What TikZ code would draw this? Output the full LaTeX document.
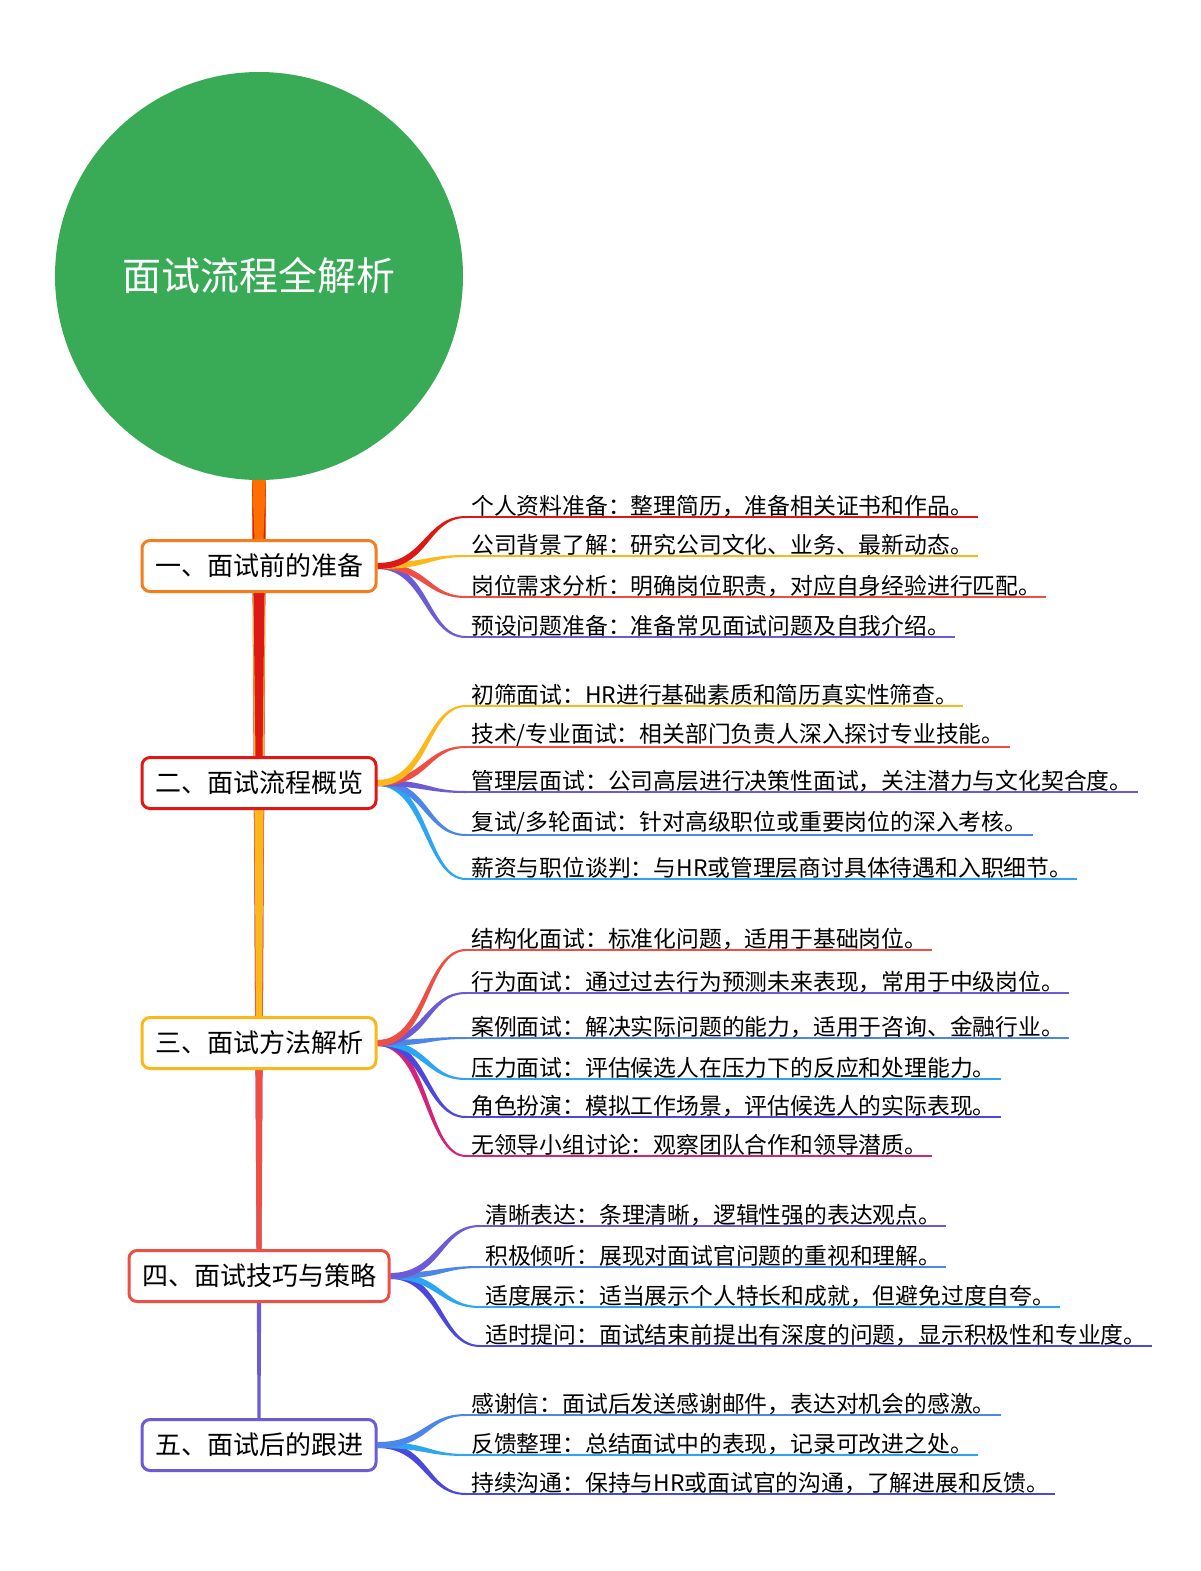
\documentclass[tikz,border=0pt]{standalone}
\usepackage{fontspec}
\setmainfont{Noto Sans CJK SC}
\usepackage{tikz}
\usetikzlibrary{calc}
\usetikzlibrary{backgrounds}
\definecolor{mmGreen}{RGB}{57,170,86}
\definecolor{mmOrange}{RGB}{245,125,30}
\definecolor{mmTrunk}{RGB}{255,110,0}
\definecolor{mmRed}{RGB}{222,24,20}
\definecolor{mmAmber}{RGB}{250,184,26}
\definecolor{mmCoral}{RGB}{239,78,66}
\definecolor{mmPurple}{RGB}{108,90,214}
\definecolor{mmBlue}{RGB}{76,134,232}
\definecolor{mmSky}{RGB}{44,166,242}
\definecolor{mmIndigo}{RGB}{76,72,220}
\definecolor{mmMagenta}{RGB}{212,36,122}
\tikzset{
topic/.style = {draw=#1, line width=3pt, rounded corners=8pt, fill=white,
               minimum height=51pt, inner xsep=13pt,
               font=\fontsize{26}{30}\selectfont},
leaf/.style = {anchor=south west, inner xsep=5pt, inner ysep=0.3pt,
              font=\fontsize{22.8}{26}\selectfont}
}
\newcommand{\trunk}[3]{\fill[#1] ($(root.south)+(-7,-4)$) -- ($(#2.north)+(-#3,0)$) -- ($(#2.north)+(#3,0)$) -- ($(root.south)+(7,-4)$) -- cycle;}
\newcommand{\twig}[4]{% colour, 1 = leaf above / -1 = leaf below, topic, leaf
  \fill[#1] ($(#3.east)+(0,-3)$)
    .. controls ($(#3.east)+({50-3*(#2)},-3)$) and ($(#4.south west)+({-40-(#2)},-1)$) .. ($(#4.south west)+(0,-1)$)
    -- ($(#4.south west)+(0,1)$)
    .. controls ($(#4.south west)+({-40+(#2)},1)$) and ($(#3.east)+({50+3*(#2)},3)$) .. ($(#3.east)+(0,3)$) -- cycle;
  \draw[#1, line width=2pt] (#4.south west) -- (#4.south east);}

\begin{document}
\begin{tikzpicture}[x=1pt, y=-1pt]
    \useasboundingbox (0,0) rectangle (1200,1571);
    \node[circle, fill=mmGreen, minimum size=408pt, text=white,
          font=\fontsize{39}{44}\selectfont] (root) at (259,276) {面试流程全解析};

    \node[topic=mmOrange] (p1) at (259,566) {一、面试前的准备};
    \node[topic=mmRed] (p2) at (259,783) {二、面试流程概览};
    \node[topic=mmAmber] (p3) at (259,1043) {三、面试方法解析};
    \node[topic=mmCoral] (p4) at (259,1276) {四、面试技巧与策略};
    \node[topic=mmPurple] (p5) at (259,1445) {五、面试后的跟进};

    \node[leaf] (p1a) at (466,517) {个人资料准备：整理简历，准备相关证书和作品。};
    \node[leaf] (p1b) at (466,556) {公司背景了解：研究公司文化、业务、最新动态。};
    \node[leaf] (p1c) at (466,597) {岗位需求分析：明确岗位职责，对应自身经验进行匹配。};
    \node[leaf] (p1d) at (466,637) {预设问题准备：准备常见面试问题及自我介绍。};

    \node[leaf] (p2a) at (466,706) {初筛面试：HR进行基础素质和简历真实性筛查。};
    \node[leaf] (p2b) at (466,747) {技术/专业面试：相关部门负责人深入探讨专业技能。};
    \node[leaf] (p2c) at (466,792) {管理层面试：公司高层进行决策性面试，关注潜力与文化契合度。};
    \node[leaf] (p2d) at (466,835) {复试/多轮面试：针对高级职位或重要岗位的深入考核。};
    \node[leaf] (p2e) at (466,879) {薪资与职位谈判：与HR或管理层商讨具体待遇和入职细节。};

    \node[leaf] (p3a) at (466,950) {结构化面试：标准化问题，适用于基础岗位。};
    \node[leaf] (p3b) at (466,993) {行为面试：通过过去行为预测未来表现，常用于中级岗位。};
    \node[leaf] (p3c) at (466,1038) {案例面试：解决实际问题的能力，适用于咨询、金融行业。};
    \node[leaf] (p3d) at (466,1079) {压力面试：评估候选人在压力下的反应和处理能力。};
    \node[leaf] (p3e) at (466,1117) {角色扮演：模拟工作场景，评估候选人的实际表现。};
    \node[leaf] (p3f) at (466,1156) {无领导小组讨论：观察团队合作和领导潜质。};

    \node[leaf] (p4a) at (480,1226) {清晰表达：条理清晰，逻辑性强的表达观点。};
    \node[leaf] (p4b) at (480,1267) {积极倾听：展现对面试官问题的重视和理解。};
    \node[leaf] (p4c) at (480,1307) {适度展示：适当展示个人特长和成就，但避免过度自夸。};
    \node[leaf] (p4d) at (480,1346) {适时提问：面试结束前提出有深度的问题，显示积极性和专业度。};

    \node[leaf] (p5a) at (466,1415) {感谢信：面试后发送感谢邮件，表达对机会的感激。};
    \node[leaf] (p5b) at (466,1455) {反馈整理：总结面试中的表现，记录可改进之处。};
    \node[leaf] (p5c) at (466,1494) {持续沟通：保持与HR或面试官的沟通，了解进展和反馈。};

    \begin{pgfonlayer}{background}
    \trunk{mmPurple}{p5}{1.5}
    \trunk{mmCoral}{p4}{2.5}
    \trunk{mmAmber}{p3}{3}
    \trunk{mmRed}{p2}{3.5}
    \trunk{mmTrunk}{p1}{4.5}

    \twig{mmPurple}{-1}{p1}{p1d}
    \twig{mmCoral}{-1}{p1}{p1c}
    \twig{mmAmber}{1}{p1}{p1b}
    \twig{mmRed}{1}{p1}{p1a}

    \twig{mmSky}{-1}{p2}{p2e}
    \twig{mmBlue}{-1}{p2}{p2d}
    \twig{mmPurple}{-1}{p2}{p2c}
    \twig{mmCoral}{1}{p2}{p2b}
    \twig{mmAmber}{1}{p2}{p2a}

    \twig{mmMagenta}{-1}{p3}{p3f}
    \twig{mmIndigo}{-1}{p3}{p3e}
    \twig{mmSky}{-1}{p3}{p3d}
    \twig{mmBlue}{1}{p3}{p3c}
    \twig{mmPurple}{1}{p3}{p3b}
    \twig{mmCoral}{1}{p3}{p3a}

    \twig{mmIndigo}{-1}{p4}{p4d}
    \twig{mmSky}{-1}{p4}{p4c}
    \twig{mmBlue}{1}{p4}{p4b}
    \twig{mmPurple}{1}{p4}{p4a}

    \twig{mmIndigo}{-1}{p5}{p5c}
    \twig{mmSky}{-1}{p5}{p5b}
    \twig{mmBlue}{1}{p5}{p5a}
    \end{pgfonlayer}
\end{tikzpicture}
\end{document}
